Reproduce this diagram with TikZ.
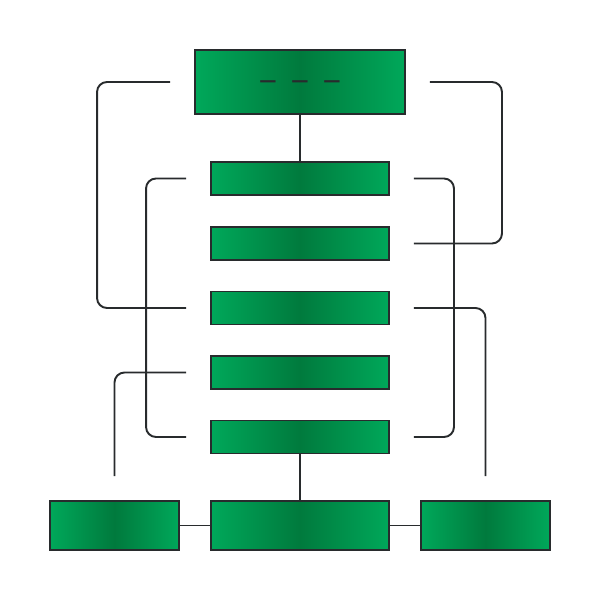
\documentclass[tikz,border=0pt]{standalone}
\usepackage{fontspec}
\newfontfamily\dashfont{DejaVu Sans}
\usetikzlibrary{positioning}
\definecolor{boxlight}{RGB}{0,168,90}
\definecolor{boxdark}{RGB}{0,122,61}
\definecolor{linegray}{RGB}{40,43,45}
\begin{document}
\begin{tikzpicture}[
		box/.style={draw=linegray, line width=1.1pt, left color=boxlight, right color=boxlight, middle color=boxdark, inner sep=0pt},
		row/.style={box, minimum width=3.56cm, minimum height=0.66cm},
		link/.style={draw=linegray, line width=1.1pt, rounded corners=0.2cm}
	]
			\useasboundingbox (0,0) rectangle (12,12);
			
			\node[box, minimum width=4.2cm, minimum height=1.28cm] (head) at (6,10.36) {};
			\node[text=linegray, inner sep=0pt] (dashes) at ([yshift=-0.3mm]head.center) {\dashfont\bfseries\fontsize{9.8pt}{10pt}\selectfont —\hspace{8.4pt}—\hspace{8.4pt}—};
			\node[row] (r1) at (6,8.43) {};
			\node[row] (r2) at (6,7.13) {};
			\node[row] (r3) at (6,5.84) {};
			\node[row] (r4) at (6,4.55) {};
			\node[row] (r5) at (6,3.26) {};
			
			\node[box, minimum width=3.56cm, minimum height=0.98cm] (foot) at (6,1.49) {};
			\node[box, minimum width=2.58cm, minimum height=0.98cm] (footl) at (2.29,1.49) {};
			\node[box, minimum width=2.58cm, minimum height=0.98cm] (footr) at (9.71,1.49) {};
			
			\draw[link] (head.south) -- (r1.north);
			\draw[link] (r5.south) -- (foot.north);
			\draw[link] (footl.east) -- (foot.west);
			\draw[link] (foot.east) -- (footr.west);
			
			% left side
			\draw[link] ([xshift=-4.8mm]head.west) -- ++(-1.46,0) |- ([xshift=-4.8mm]r3.west);
			\draw[link] ([xshift=-4.8mm]r1.west) -- ++(-0.8,0) |- ([xshift=-4.8mm]r5.west);
			\draw[link] ([xshift=-4.8mm]r4.west) -| ([yshift=4.8mm]footl.north);
			
			% right side
			\draw[link] ([xshift=4.8mm]head.east) -- ++(1.44,0) |- ([xshift=4.8mm]r2.east);
			\draw[link] ([xshift=4.8mm]r1.east) -- ++(0.8,0) |- ([xshift=4.8mm]r5.east);
			\draw[link] ([xshift=4.8mm]r3.east) -| ([yshift=4.8mm]footr.north);
			
		\end{tikzpicture}
\end{document}
